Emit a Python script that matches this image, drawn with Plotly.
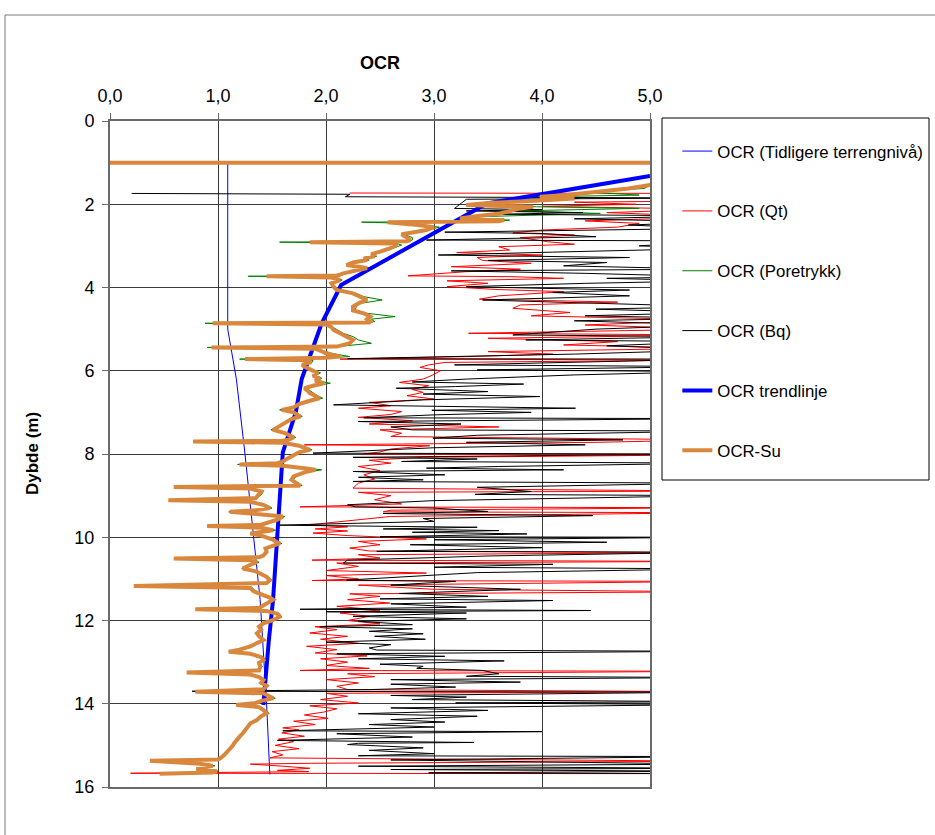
import plotly.graph_objects as go

# ---- OCR profiles versus depth (m) ----
prev_depth = [1.0, 5.0, 5.6, 6.2, 8.0, 9.75, 11.5, 14.0, 15.7]
prev_ocr = [1.09, 1.09, 1.13, 1.17, 1.25, 1.32, 1.39, 1.45, 1.48]

qt_depth = [1.73, 1.74, 1.92, 1.95, 2.0, 2.05, 2.12, 2.2, 2.3, 2.4, 2.46, 2.55, 2.62, 2.69, 2.74,
            2.8, 2.9, 2.96, 3.02, 3.1, 3.16, 3.22, 3.28, 3.35, 3.42, 3.5, 3.56, 3.62, 3.72, 3.74,
            3.78, 3.84, 3.9, 3.98, 4.05, 4.1, 4.2, 4.28, 4.35, 4.42, 4.5, 4.6, 4.68, 4.78, 4.9,
            5.0, 5.1, 5.14, 5.22, 5.3, 5.38, 5.46, 5.54, 5.6, 5.66, 5.72, 5.74, 5.8, 5.86, 5.92,
            6.0, 6.1, 6.2, 6.28, 6.36, 6.45, 6.52, 6.6, 6.68, 6.76, 6.84, 6.9, 6.98, 7.05, 7.12,
            7.2, 7.28, 7.35, 7.42, 7.5, 7.58, 7.66, 7.72, 7.78, 7.8, 7.88, 7.95, 8.0, 8.02, 8.08,
            8.15, 8.22, 8.3, 8.4, 8.5, 8.6, 8.7, 8.82, 8.89, 8.92, 9.0, 9.1, 9.2, 9.27, 9.29,
            9.35, 9.39, 9.41, 9.5, 9.58, 9.65, 9.7, 9.75, 9.8, 9.85, 9.9, 9.96, 10.04, 10.1, 10.18,
            10.26, 10.33, 10.37, 10.42, 10.5, 10.55, 10.58, 10.62, 10.7, 10.8, 10.86, 10.92, 11.0, 11.04, 11.06,
            11.15, 11.25, 11.31, 11.36, 11.42, 11.5, 11.58, 11.66, 11.75, 11.82, 11.9, 12.0, 12.08, 12.15, 12.22,
            12.3, 12.38, 12.45, 12.55, 12.62, 12.7, 12.78, 12.85, 12.92, 13.0, 13.08, 13.15, 13.2, 13.22, 13.28,
            13.35, 13.42, 13.5, 13.58, 13.66, 13.71, 13.75, 13.82, 13.9, 13.98, 14.05, 14.12, 14.2, 14.27, 14.35,
            14.42, 14.5, 14.58, 14.63, 14.7, 14.78, 14.85, 14.91, 15.0, 15.08, 15.15, 15.23, 15.3, 15.38, 15.43,
            15.45, 15.5, 15.55, 15.6, 15.63, 15.67, 15.68]
qt_ocr = [2.22, 5.6, 5.6, 4.3, 4.87, 4.0, 5.6, 4.6, 5.6, 4.4, 4.9, 4.7, 4.0, 3.73, 4.3,
          3.8, 4.05, 4.3, 3.6, 3.7, 3.21, 4.0, 3.4, 3.45, 3.9, 3.16, 3.8, 3.3, 2.76, 3.72,
          4.2, 3.12, 3.5, 3.12, 3.6, 4.2, 3.6, 3.42, 4.7, 3.8, 3.73, 4.26, 3.9, 5.6, 4.4,
          5.6, 3.32, 5.6, 3.5, 4.7, 4.2, 5.6, 3.5, 4.1, 3.3, 2.13, 5.6, 3.1, 2.95, 2.87,
          3.06, 2.99, 2.9, 2.68, 2.95, 2.8, 2.9, 2.75, 3.0, 2.4, 2.6, 2.3, 2.7, 2.6, 2.3,
          2.8, 2.4, 3.6, 2.5, 2.7, 2.6, 5.6, 4.5, 1.8, 2.96, 2.6, 2.5, 2.35, 5.6, 2.9,
          2.4, 2.6, 2.3, 2.5, 2.35, 2.45, 2.3, 2.25, 5.6, 2.3, 2.6, 2.45, 2.7, 1.76, 5.6,
          2.6, 2.53, 5.6, 2.6, 2.3, 2.0, 1.85, 2.2, 1.9, 2.2, 1.88, 2.2, 2.93, 2.3, 2.5,
          2.22, 2.4, 5.6, 2.3, 2.5, 1.87, 5.6, 2.1, 2.3, 2.0, 2.93, 2.0, 2.3, 1.87, 5.6,
          2.3, 2.99, 5.6, 2.22, 2.5, 2.2, 2.59, 2.1, 2.5, 2.13, 2.4, 2.2, 2.5, 1.9, 2.1,
          1.85, 2.2, 1.95, 2.3, 1.82, 2.1, 1.9, 2.38, 1.95, 2.2, 2.0, 2.4, 1.76, 5.6, 2.2,
          2.45, 2.0, 2.3, 2.1, 2.2, 5.6, 2.0, 2.2, 1.95, 2.3, 1.85, 2.1, 1.98, 1.8, 2.02,
          1.7, 1.9, 1.6, 1.75, 1.59, 1.8, 1.56, 1.7, 1.53, 1.75, 1.5, 1.6, 1.48, 5.6, 1.87,
          1.3, 1.6, 1.85, 1.55, 1.84, 0.19, 5.6]

bq_depth = [1.74, 1.76, 1.82, 1.85, 1.88, 2.1, 2.13, 2.16, 2.2, 2.24, 2.28, 2.35, 2.42, 2.5, 2.58,
            2.67, 2.7, 2.78, 2.86, 2.88, 3.0, 3.06, 3.15, 3.22, 3.28, 3.35, 3.4, 3.48, 3.56, 3.6,
            3.66, 3.74, 3.78, 3.84, 3.9, 3.98, 4.02, 4.06, 4.12, 4.2, 4.3, 4.36, 4.46, 4.52, 4.6,
            4.68, 4.74, 4.8, 4.9, 5.0, 5.14, 5.18, 5.26, 5.3, 5.4, 5.5, 5.6, 5.71, 5.72, 5.86,
            5.9, 5.98, 6.02, 6.1, 6.2, 6.27, 6.32, 6.38, 6.42, 6.5, 6.56, 6.62, 6.7, 6.82, 6.86,
            6.9, 6.95, 7.0, 7.06, 7.13, 7.15, 7.22, 7.28, 7.35, 7.42, 7.45, 7.55, 7.62, 7.66, 7.72,
            7.78, 7.85, 7.98, 8.0, 8.08, 8.12, 8.18, 8.22, 8.3, 8.34, 8.38, 8.42, 8.5, 8.56, 8.62,
            8.66, 8.7, 8.8, 8.9, 8.97, 9.0, 9.12, 9.22, 9.27, 9.3, 9.38, 9.43, 9.48, 9.55, 9.62,
            9.71, 9.73, 9.76, 9.8, 9.84, 9.88, 9.92, 9.99, 10.0, 10.06, 10.12, 10.18, 10.25, 10.34, 10.36,
            10.45, 10.55, 10.62, 10.65, 10.72, 10.76, 10.85, 10.95, 11.03, 11.06, 11.15, 11.25, 11.35, 11.42, 11.48,
            11.52, 11.6, 11.68, 11.73, 11.76, 11.79, 11.82, 11.9, 11.96, 12.02, 12.1, 12.15, 12.2, 12.26, 12.32,
            12.38, 12.45, 12.52, 12.58, 12.66, 12.71, 12.74, 12.8, 12.86, 12.92, 12.97, 13.05, 13.1, 13.15, 13.2,
            13.28, 13.34, 13.37, 13.42, 13.48, 13.53, 13.6, 13.66, 13.7, 13.72, 13.8, 13.84, 13.9, 13.95, 13.98,
            14.02, 14.1, 14.16, 14.24, 14.3, 14.38, 14.44, 14.5, 14.56, 14.65, 14.67, 14.72, 14.8, 14.88, 14.93,
            14.95, 14.98, 15.06, 15.12, 15.2, 15.25, 15.27, 15.35, 15.45, 15.5, 15.55, 15.58, 15.62, 15.66, 15.68]
bq_ocr = [0.2, 2.22, 2.18, 5.6, 3.3, 3.19, 4.0, 3.3, 4.38, 3.6, 5.6, 4.3, 5.6, 4.8, 5.6,
          3.1, 3.98, 4.5, 2.93, 5.6, 4.9, 5.6, 4.1, 3.04, 4.81, 3.5, 4.6, 4.2, 5.6, 3.16,
          4.4, 5.6, 4.6, 5.6, 4.4, 3.3, 4.0, 4.81, 4.1, 4.81, 3.45, 4.2, 5.6, 4.5, 5.6,
          4.4, 5.6, 4.3, 5.6, 4.5, 3.73, 5.6, 3.85, 5.6, 4.6, 5.6, 4.3, 2.2, 5.6, 3.19,
          5.6, 3.4, 5.6, 4.3, 3.3, 2.8, 3.83, 3.2, 2.65, 3.5, 2.9, 3.98, 2.9, 2.07, 3.0,
          4.31, 2.98, 3.9, 3.0, 2.35, 5.6, 2.3, 3.25, 2.6, 2.8, 5.6, 3.4, 2.99, 4.75, 3.3,
          4.4, 3.0, 1.88, 5.6, 2.25, 3.4, 2.7, 5.6, 3.6, 2.93, 4.2, 2.25, 3.1, 2.3, 2.9,
          2.25, 5.6, 3.4, 3.9, 3.38, 5.6, 3.0, 2.2, 2.27, 3.0, 3.5, 2.53, 4.47, 2.9, 3.0,
          1.54, 2.32, 3.4, 2.53, 3.6, 2.8, 3.86, 2.5, 5.6, 3.0, 4.6, 2.78, 4.0, 2.47, 5.6,
          3.5, 2.2, 2.16, 4.1, 3.0, 5.6, 3.4, 2.7, 2.19, 3.2, 2.6, 3.8, 2.68, 3.5, 2.5,
          4.1, 2.6, 3.3, 1.76, 4.45, 2.0, 3.3, 2.25, 3.3, 2.3, 2.8, 1.95, 2.8, 2.4, 2.9,
          2.45, 2.92, 2.0, 2.6, 2.4, 2.47, 5.6, 2.1, 3.1, 2.3, 3.65, 2.5, 2.9, 2.84, 3.45,
          3.6, 3.3, 5.6, 2.6, 3.8, 2.6, 3.2, 2.4, 0.76, 5.6, 2.6, 3.3, 2.8, 5.6, 3.2,
          5.6, 2.6, 3.5, 2.3, 3.4, 2.6, 3.1, 2.4, 3.0, 1.6, 4.0, 2.1, 2.8, 1.55, 3.37,
          2.3, 2.2, 2.9, 2.4, 3.0, 2.3, 5.6, 2.6, 5.6, 2.3, 5.6, 2.6, 5.6, 2.95, 5.6]

# Su-based OCR and pore-pressure OCR share the same depth samples
su_depth = [1.0, 1.0, 1.45, 1.54, 1.62, 1.66, 1.72, 1.78, 1.82, 1.86, 1.92, 1.97, 2.02, 2.06, 2.1,
            2.16, 2.22, 2.3, 2.34, 2.38,
            2.41, 2.43, 2.46, 2.5, 2.55, 2.62, 2.68, 2.72, 2.8, 2.86,
            2.89, 2.91, 2.94, 2.98, 3.06, 3.1, 3.14, 3.2, 3.25, 3.3, 3.34, 3.4, 3.46, 3.53, 3.6,
            3.66, 3.7,
            3.71, 3.73, 3.76, 3.82, 3.9, 3.98, 4.06, 4.14, 4.22, 4.3, 4.38, 4.46, 4.55, 4.62, 4.7,
            4.76, 4.82,
            4.84, 4.86, 4.89, 4.95, 5.02, 5.1, 5.18, 5.26, 5.34, 5.4,
            5.42, 5.44, 5.47, 5.52, 5.58, 5.66, 5.69, 5.72, 5.75, 5.8,
            5.86, 5.9, 5.98, 6.05, 6.12, 6.18, 6.24, 6.3, 6.36, 6.42, 6.48, 6.54, 6.6, 6.66, 6.72,
            6.8, 6.88,
            6.94, 7.0, 7.06, 7.1, 7.16, 7.22, 7.3, 7.36, 7.42, 7.5, 7.6, 7.66,
            7.68, 7.7, 7.73, 7.8, 7.86, 7.9, 7.96, 8.02, 8.1, 8.18,
            8.22, 8.25, 8.28, 8.34, 8.38, 8.44, 8.54, 8.62, 8.7, 8.76,
            8.79, 8.83, 8.9, 8.98, 9.06, 9.11, 9.15, 9.22, 9.3, 9.35,
            9.39, 9.43, 9.5, 9.58, 9.66, 9.7, 9.73, 9.77, 9.83, 9.88,
            9.91, 9.96, 10.05, 10.15, 10.22, 10.27, 10.35, 10.44, 10.48, 10.51,
            10.55, 10.6, 10.66, 10.75, 10.82, 10.9, 10.95, 11.03, 11.1, 11.17,
            11.22, 11.3, 11.38, 11.45, 11.5, 11.58, 11.65, 11.7, 11.73, 11.77,
            11.84, 11.91, 12.0, 12.07, 12.15, 12.22, 12.31, 12.38, 12.47, 12.55,
            12.62, 12.7, 12.75, 12.8, 12.88, 12.95, 13.02, 13.11, 13.2, 13.25,
            13.3, 13.36, 13.43, 13.5, 13.57, 13.65, 13.71, 13.75, 13.82, 13.87,
            13.93, 13.98, 14.03, 14.08, 14.15, 14.23, 14.3, 14.39, 14.47, 14.55,
            14.63, 14.71, 14.79, 14.87, 14.95, 15.03, 15.11, 15.19, 15.25, 15.31,
            15.34, 15.37, 15.41, 15.44, 15.49, 15.53, 15.57, 15.62, 15.65, 15.68]
su_ocr = [0.0, 6.0, 6.0, 5.0, 4.8, 4.66, 4.4, 4.23, 3.98, 4.3, 3.9, 3.5, 3.3, 3.92, 3.8,
          3.7, 3.61, 3.35, 3.24, 3.65,
          3.6, 2.57, 2.75, 2.85, 3.0, 2.93, 2.8, 2.7, 2.75, 2.78,
          2.75, 1.85, 2.6, 2.66, 2.59, 2.55, 2.5, 2.42, 2.45, 2.35, 2.38, 2.25, 2.19, 2.38, 2.25,
          2.16, 2.12,
          2.1, 1.45, 2.05, 2.13, 2.05, 2.07, 2.1, 2.25, 2.31, 2.38, 2.3, 2.25, 2.25, 2.35, 2.41,
          2.38, 2.41,
          2.4, 0.95, 2.0, 2.05, 2.07, 2.13, 2.2, 2.25, 2.22, 2.15,
          2.1, 0.94, 1.9, 1.95, 2.0, 2.13, 2.0, 1.25, 1.85, 1.85,
          1.78, 1.8, 1.86, 1.92, 1.88, 1.94, 1.9, 1.98, 1.88, 1.8, 1.83, 1.85, 1.9, 1.94, 1.85,
          1.75, 1.7,
          1.59, 1.7, 1.74, 1.76, 1.68, 1.64, 1.6, 1.55, 1.51, 1.62, 1.7, 1.65,
          1.6, 0.77, 1.6, 1.75, 1.82, 1.85, 1.75, 1.7, 1.65, 1.6,
          1.55, 1.2, 1.6, 1.8, 1.9, 1.8, 1.7, 1.68, 1.72, 1.76,
          0.59, 1.3, 1.4, 1.38, 1.35, 0.54, 1.3, 1.42, 1.48, 1.35,
          1.11, 1.3, 1.6, 1.55, 1.45, 1.4, 0.9, 1.4, 1.51, 1.4,
          1.3, 1.4, 1.5, 1.57, 1.5, 1.44, 1.45, 1.42, 1.38, 0.59,
          1.3, 1.36, 1.3, 1.23, 1.35, 1.42, 1.45, 1.48, 1.45, 0.22,
          1.3, 1.33, 1.42, 1.48, 1.51, 1.45, 1.4, 1.38, 0.79, 1.45,
          1.55, 1.57, 1.5, 1.42, 1.38, 1.4, 1.36, 1.38, 1.42, 1.35,
          1.3, 1.2, 1.1, 1.3, 1.4, 1.42, 1.38, 1.39, 1.38, 0.71,
          1.3, 1.38, 1.42, 1.4, 1.45, 1.42, 0.79, 1.42, 1.48, 1.51,
          1.4, 1.35, 1.17, 1.38, 1.42, 1.45, 1.4, 1.36, 1.3, 1.28,
          1.25, 1.23, 1.2, 1.17, 1.15, 1.13, 1.1, 1.08, 1.05, 1.02,
          1.0, 0.37, 0.75, 0.83, 0.95, 0.88, 0.8, 0.99, 0.95, 0.46]
pore_ocr = [0.0, 6.0, 6.0, 5.0, 4.95, 4.7, 4.5, 4.9, 4.0, 4.35, 3.95, 3.5, 3.3, 3.95, 4.9,
            3.75, 4.54, 3.4, 3.26, 3.7,
            3.6, 2.33, 2.78, 2.85, 3.05, 2.95, 2.82, 2.72, 2.8, 2.8,
            2.75, 1.57, 2.65, 2.7, 2.62, 2.58, 2.52, 2.45, 2.47, 2.36, 2.4, 2.22, 2.2, 2.4, 2.27,
            2.18, 2.12,
            2.1, 1.28, 2.08, 2.15, 2.06, 2.08, 2.12, 2.28, 2.35, 2.52, 2.32, 2.28, 2.27, 2.38, 2.64,
            2.42, 2.45,
            2.4, 0.88, 2.02, 2.06, 2.1, 2.16, 2.25, 2.3, 2.42, 2.16,
            2.1, 0.9, 1.92, 1.97, 2.05, 2.22, 2.0, 1.2, 1.88, 1.87,
            1.8, 1.82, 1.88, 1.95, 1.9, 1.96, 1.92, 2.04, 1.9, 1.82, 1.85, 1.88, 1.92, 1.97, 1.86,
            1.76, 1.7,
            1.57, 1.72, 1.76, 1.78, 1.7, 1.65, 1.6, 1.55, 1.49, 1.64, 1.72, 1.66,
            1.6, 0.77, 1.62, 1.77, 1.84, 1.87, 1.76, 1.71, 1.66, 1.6,
            1.55, 1.18, 1.62, 1.85, 1.96, 1.82, 1.72, 1.7, 1.74, 1.78,
            0.6, 1.32, 1.42, 1.4, 1.36, 0.69, 1.3, 1.44, 1.5, 1.35,
            1.1, 1.32, 1.62, 1.56, 1.46, 1.4, 0.9, 1.42, 1.53, 1.4,
            1.3, 1.42, 1.52, 1.59, 1.51, 1.45, 1.46, 1.43, 1.38, 0.6,
            1.32, 1.38, 1.3, 1.22, 1.37, 1.44, 1.47, 1.5, 1.45, 0.3,
            1.32, 1.35, 1.44, 1.5, 1.53, 1.46, 1.4, 1.38, 0.8, 1.47,
            1.57, 1.59, 1.51, 1.43, 1.38, 1.41, 1.37, 1.39, 1.44, 1.35,
            1.3, 1.2, 1.1, 1.32, 1.42, 1.44, 1.39, 1.41, 1.38, 0.72,
            1.32, 1.4, 1.44, 1.41, 1.47, 1.42, 0.8, 1.44, 1.5, 1.53,
            1.4, 1.35, 1.17, 1.4, 1.44, 1.47, 1.41, 1.37, 1.31, 1.29,
            1.26, 1.24, 1.21, 1.18, 1.16, 1.14, 1.11, 1.09, 1.06, 1.03,
            1.0, 0.55, 0.76, 0.85, 0.97, 0.9, 0.82, 1.0, 0.96, 0.46]

trend_depth = [1.32, 1.98, 3.94, 4.86, 6.2, 7.0, 7.96, 9.0, 9.75, 11.5, 12.5, 14.03]
trend_ocr = [5.0, 3.49, 2.14, 1.96, 1.775, 1.72, 1.60, 1.575, 1.556, 1.51, 1.47, 1.42]

x_ticks = [0, 1, 2, 3, 4, 5]
y_ticks = [0, 2, 4, 6, 8, 10, 12, 14, 16]

FONT = "Liberation Sans, Arial, sans-serif"

series = [
    ("OCR (Tidligere terrengnivå)", prev_ocr, prev_depth, "#0000FF", 1),
    ("OCR (Qt)", qt_ocr, qt_depth, "#FF0000", 1),
    ("OCR (Poretrykk)", pore_ocr, su_depth, "#008000", 1),
    ("OCR (Bq)", bq_ocr, bq_depth, "#000000", 1),
    ("OCR trendlinje", trend_ocr, trend_depth, "#0000FF", 4),
    ("OCR-Su", su_ocr, su_depth, "#D9873D", 4),
]

fig = go.Figure()
for i, (name, xs, ys, color, width) in enumerate(series):
    fig.add_trace(go.Scatter(
        x=xs, y=ys, mode="lines", name=name, legendgroup=f"g{i}",
        line=dict(color=color, width=width),
    ))

fig.update_layout(
    width=935, height=835,
    margin=dict(l=110, r=285, t=121, b=48, autoexpand=False),
    paper_bgcolor="white", plot_bgcolor="white",
    separators=", ",
    font=dict(family=FONT, color="black"),
    showlegend=True,
    legend=dict(
        x=1.0506, y=0.981, xanchor="left", yanchor="top",
        font=dict(family=FONT, size=16.8, color="black"),
        bgcolor="rgba(0,0,0,0)", borderwidth=0,
        tracegroupgap=35, itemwidth=30,
    ),
    xaxis=dict(
        side="top", range=[0, 5], tickvals=x_ticks, tickformat=".1f",
        showgrid=True, gridcolor="#3a3a3a", gridwidth=1,
        showline=True, linecolor="#6a6a6a", linewidth=2, mirror=True,
        ticks="outside", ticklen=6, tickcolor="#6a6a6a",
        tickfont=dict(size=18), ticklabelstandoff=4, zeroline=False,
    ),
    yaxis=dict(
        range=[16, 0], tickvals=y_ticks,
        showgrid=True, gridcolor="#3a3a3a", gridwidth=1,
        showline=True, linecolor="#6a6a6a", linewidth=2, mirror=True,
        ticks="outside", ticklen=6, tickcolor="#6a6a6a",
        tickfont=dict(size=18), ticklabelstandoff=4, zeroline=False,
    ),
    annotations=[
        dict(text="<b>OCR</b>", xref="paper", yref="paper", x=0.5, y=(787 - 63) / 666,
             xanchor="center", yanchor="middle", showarrow=False, font=dict(size=18)),
        dict(text="<b>Dybde (m)</b>", xref="paper", yref="paper", x=(32 - 110) / 540, y=0.5,
             xanchor="center", yanchor="middle", textangle=-90, showarrow=False,
             font=dict(size=17)),
    ],
    shapes=[
        dict(type="rect", xref="paper", yref="paper", layer="below",
             x0=(5 - 110) / 540, x1=(945 - 110) / 540,
             y0=(787 - 845) / 666, y1=(787 - 15) / 666,
             line=dict(color="#7a7a7a", width=1)),
        dict(type="rect", xref="paper", yref="paper",
             x0=(662 - 110) / 540, x1=(929 - 110) / 540,
             y0=(787 - 480) / 666, y1=(787 - 118) / 666,
             line=dict(color="#000000", width=1)),
    ],
)

fig.write_html("out.html")
